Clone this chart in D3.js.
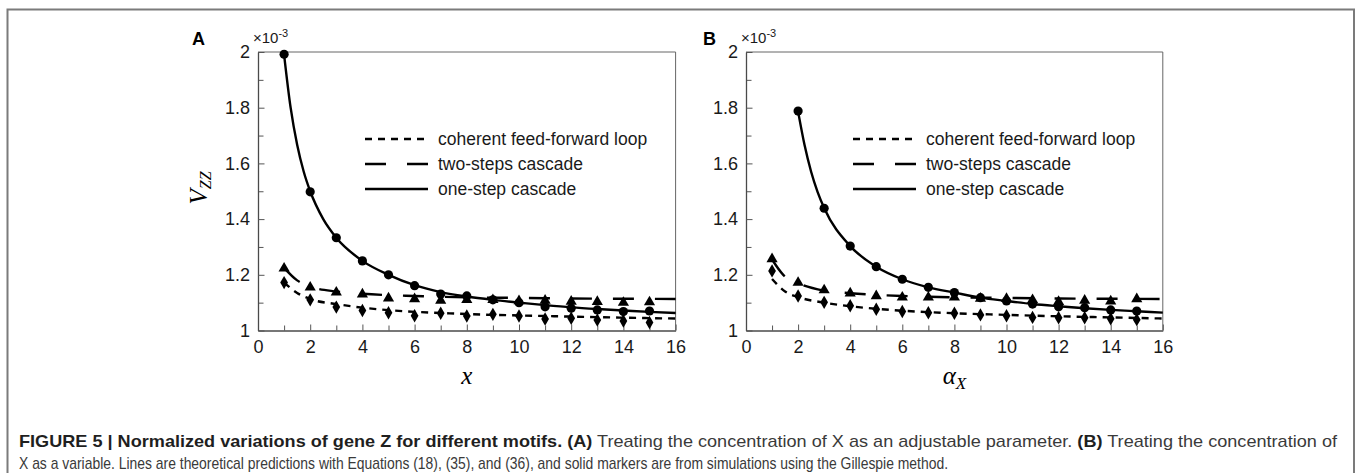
<!DOCTYPE html>
<html>
<head>
<meta charset="utf-8">
<script src="https://cdn.jsdelivr.net/npm/d3@7"></script>
<style>
  body { margin: 0; background: #fff; }
  svg { display: block; }
</style>
</head>
<body>
<svg width="1357" height="473"></svg>
<script>
// ---- data (values in units of 1e-3) ----
const panelLetters = ["A", "B"];
const xAxisTitles = ["x", "α"];
const xTickValues = [0, 2, 4, 6, 8, 10, 12, 14, 16];
const xTickLabels = ["0", "2", "4", "6", "8", "10", "12", "14", "16"];
const xMinorTicks = [1, 3, 5, 7, 9, 11, 13, 15];
const yTickValues = [1, 1.2, 1.4, 1.6, 1.8, 2];
const yTickLabels = ["1", "1.2", "1.4", "1.6", "1.8", "2"];
const yMinorTicks = [1.1, 1.3, 1.5, 1.7, 1.9];
const legendLabels = ["coherent feed-forward loop", "two-steps cascade", "one-step cascade"];

// panel A: theory lines
const aFflLineX = [1, 1.5, 2, 3, 4, 5, 6, 7, 8, 10, 12, 14, 16];
const aFflLineY = [1.172, 1.135, 1.113, 1.095, 1.082, 1.073, 1.067, 1.063, 1.059, 1.054, 1.05, 1.046, 1.043];
const aTwoLineX = [1, 1.5, 2, 3, 4, 5, 6, 7, 8, 10, 12, 14, 16];
const aTwoLineY = [1.225, 1.18, 1.158, 1.14, 1.132, 1.127, 1.124, 1.121, 1.119, 1.117, 1.115, 1.114, 1.113];
const aOneLineX = [1, 1.25, 1.5, 1.75, 2, 2.5, 3, 4, 5, 6, 7, 8, 9, 10, 11, 12, 13, 14, 15, 16];
const aOneLineY = [1.99, 1.8, 1.667, 1.571, 1.5, 1.4, 1.333, 1.25, 1.2, 1.163, 1.138, 1.122, 1.11, 1.1, 1.091, 1.083, 1.077, 1.072, 1.067, 1.063];
// panel A: simulation markers
const aMarkerX = [1, 2, 3, 4, 5, 6, 7, 8, 9, 10, 11, 12, 13, 14, 15];
const aFflMarkers = [1.172, 1.11, 1.084, 1.072, 1.064, 1.053, 1.062, 1.052, 1.058, 1.052, 1.041, 1.044, 1.038, 1.034, 1.029];
const aTwoMarkers = [1.223, 1.155, 1.137, 1.13, 1.116, 1.113, 1.108, 1.11, 1.11, 1.106, 1.108, 1.104, 1.103, 1.1, 1.102];
const aOneMarkers = [1.992, 1.498, 1.333, 1.25, 1.2, 1.161, 1.131, 1.124, 1.11, 1.1, 1.085, 1.08, 1.074, 1.068, 1.07];

// panel B: theory lines
const bFflLineX = [1, 1.5, 2, 3, 4, 5, 6, 7, 8, 10, 12, 14, 16];
const bFflLineY = [1.185, 1.14, 1.12, 1.1, 1.087, 1.078, 1.071, 1.066, 1.062, 1.056, 1.051, 1.047, 1.043];
const bTwoLineX = [1, 1.43, 2, 3, 4, 5, 6, 7, 8, 10, 12, 14, 16];
const bTwoLineY = [1.255, 1.2, 1.17, 1.143, 1.134, 1.128, 1.124, 1.121, 1.119, 1.117, 1.115, 1.114, 1.113];
const bOneLineX = [2, 2.25, 2.5, 2.75, 3, 4, 5, 6, 7, 8, 9, 10, 11, 12, 13, 14, 15, 16];
const bOneLineY = [1.786, 1.665, 1.57, 1.497, 1.44, 1.303, 1.229, 1.184, 1.155, 1.136, 1.118, 1.106, 1.095, 1.087, 1.08, 1.074, 1.069, 1.064];
// panel B: simulation markers
const bMarkerX = [1, 2, 3, 4, 5, 6, 7, 8, 9, 10, 11, 12, 13, 14, 15];
const bOneMarkerX = [2, 3, 4, 5, 6, 7, 8, 9, 10, 11, 12, 13, 14, 15];
const bFflMarkers = [1.214, 1.124, 1.101, 1.089, 1.076, 1.068, 1.064, 1.062, 1.056, 1.053, 1.047, 1.046, 1.046, 1.042, 1.039];
const bTwoMarkers = [1.257, 1.172, 1.145, 1.134, 1.124, 1.119, 1.119, 1.119, 1.115, 1.114, 1.11, 1.103, 1.108, 1.105, 1.113];
const bOneMarkers = [1.788, 1.439, 1.303, 1.229, 1.184, 1.155, 1.136, 1.118, 1.106, 1.095, 1.085, 1.082, 1.074, 1.07];

const captionBold1 = "FIGURE 5 | Normalized variations of gene Z for different motifs. (A)";
const captionText1 = " Treating the concentration of X as an adjustable parameter. ";
const captionBold2 = "(B)";
const captionText2 = " Treating the concentration of";
const captionLine2 = "X as a variable. Lines are theoretical predictions with Equations (18), (35), and (36), and solid markers are from simulations using the Gillespie method.";

const zip = (xs, ys) => xs.map((x, i) => ({ x: x, y: ys[i] }));

const panels = [
  { left: 258, right: 675.6,
    ffl: zip(aFflLineX, aFflLineY), two: zip(aTwoLineX, aTwoLineY), one: zip(aOneLineX, aOneLineY),
    fflM: zip(aMarkerX, aFflMarkers), twoM: zip(aMarkerX, aTwoMarkers), oneM: zip(aMarkerX, aOneMarkers),
    legendX: 365 },
  { left: 746, right: 1162.8,
    ffl: zip(bFflLineX, bFflLineY), two: zip(bTwoLineX, bTwoLineY), one: zip(bOneLineX, bOneLineY),
    fflM: zip(bMarkerX, bFflMarkers), twoM: zip(bMarkerX, bTwoMarkers), oneM: zip(bOneMarkerX, bOneMarkers),
    legendX: 853 }
];
const plotTop = 52, plotBottom = 330.5;
const sans = "'Liberation Sans', Arial, Helvetica, sans-serif";
const serif = "'Liberation Serif', 'Times New Roman', serif";
const dotted = "7,6", dashed = "21,21";

let svg = d3.select("svg");

// outer figure frame
svg.append("rect")
   .attr("x", 7.5).attr("y", 9.5)
   .attr("width", 1346.5).attr("height", 500)
   .attr("fill", "none")
   .attr("stroke", "#7b7b7b")
   .attr("stroke-width", 2);

panels.forEach((p, pi) => {
  let x = d3.scaleLinear().domain([0, 16]).range([p.left, p.right]);
  let y = d3.scaleLinear().domain([1, 2]).range([plotBottom, plotTop]);
  let g = svg.append("g");

  // top + right border
  g.append("path")
   .attr("d", `M${p.left},${plotTop}H${p.right}V${plotBottom}`)
   .attr("fill", "none").attr("stroke", "#666").attr("stroke-width", 1);

  // minor ticks
  g.append("g").attr("transform", `translate(0,${plotBottom})`)
   .call(d3.axisBottom(x).tickValues(xMinorTicks).tickSize(-5).tickSizeOuter(0).tickFormat(""))
   .call(s => s.select(".domain").remove())
   .selectAll("line").attr("stroke", "#555");
  g.append("g").attr("transform", `translate(${p.left},0)`)
   .call(d3.axisLeft(y).tickValues(yMinorTicks).tickSize(-5.5).tickSizeOuter(0).tickFormat(""))
   .call(s => s.select(".domain").remove())
   .selectAll("line").attr("stroke", "#555");

  // major axes
  let xAxis = g.append("g").attr("transform", `translate(0,${plotBottom})`)
   .call(d3.axisBottom(x).tickValues(xTickValues).tickSize(-6).tickSizeOuter(0).tickPadding(10)
     .tickFormat((d, i) => xTickLabels[i]));
  let yAxis = g.append("g").attr("transform", `translate(${p.left},0)`)
   .call(d3.axisLeft(y).tickValues(yTickValues).tickSize(-6.5).tickSizeOuter(0).tickPadding(8)
     .tickFormat((d, i) => yTickLabels[i]));
  [xAxis, yAxis].forEach(a => {
    a.select(".domain").attr("stroke", "#4a4a4a").attr("stroke-width", 1.3);
    a.selectAll(".tick line").attr("stroke", "#555");
    a.selectAll("text").attr("fill", "#1a1a1a").style("font-family", sans).style("font-size", "18px");
  });

  // theory lines
  let line = d3.line().x(d => x(d.x)).y(d => y(d.y)).curve(d3.curveMonotoneX);
  [[p.ffl, dotted], [p.two, dashed], [p.one, null]].forEach(([data, dash]) => {
    g.append("path")
     .datum(data)
     .attr("d", line)
     .attr("fill", "none")
     .attr("stroke", "#000")
     .attr("stroke-width", 2.4)
     .attr("stroke-dasharray", dash);
  });

  // simulation markers
  g.selectAll(".dia").data(p.fflM).enter().append("path")
   .attr("transform", d => `translate(${x(d.x)},${y(d.y)})`)
   .attr("d", d3.symbol(d3.symbolDiamond, 52));
  g.selectAll(".tri").data(p.twoM).enter().append("path")
   .attr("transform", d => `translate(${x(d.x)},${y(d.y)})`)
   .attr("d", d3.symbol(d3.symbolTriangle, 54));
  g.selectAll(".cir").data(p.oneM).enter().append("circle")
   .attr("cx", d => x(d.x)).attr("cy", d => y(d.y)).attr("r", 4.6);

  // legend
  let legendY = [139, 164, 189];
  let dashes = [dotted, dashed, null];
  legendLabels.forEach((lab, i) => {
    g.append("line")
     .attr("x1", p.legendX).attr("x2", p.legendX + 63)
     .attr("y1", legendY[i]).attr("y2", legendY[i])
     .attr("stroke", "#000").attr("stroke-width", 2.4)
     .attr("stroke-dasharray", dashes[i]);
    g.append("text")
     .attr("x", p.legendX + 73).attr("y", legendY[i])
     .attr("dy", "0.35em")
     .style("font-family", sans).style("font-size", "17.5px")
     .attr("fill", "#1a1a1a")
     .text(lab);
  });

  // panel letter and multiplier
  g.append("text")
   .attr("x", p.left - (pi === 0 ? 66 : 43)).attr("y", 45)
   .style("font-family", sans).style("font-size", "18px").style("font-weight", "bold")
   .text(panelLetters[pi]);
  let mult = g.append("text")
   .attr("x", p.left - 5).attr("y", 43)
   .style("font-family", sans).style("font-size", "15px")
   .attr("fill", "#1a1a1a");
  mult.append("tspan").text("×10");
  mult.append("tspan").attr("dy", -6).style("font-size", "11px").text("-3");

  // x axis title
  let xt = g.append("text")
   .attr("x", x(8)).attr("y", 384)
   .attr("text-anchor", "middle")
   .style("font-family", serif).style("font-size", "25px").style("font-style", "italic")
   .text(xAxisTitles[pi]);
  if (pi === 1) {
    xt.append("tspan").attr("dy", 5).style("font-size", "17px").text("X");
  }
});

// y axis title of panel A
let yt = svg.append("text")
   .attr("transform", "translate(207,188) rotate(-90)")
   .attr("text-anchor", "middle")
   .style("font-family", serif).style("font-size", "25px").style("font-style", "italic");
yt.append("tspan").text("V");
yt.append("tspan").attr("dy", 4).style("font-size", "16px").text("ZZ");

// caption
const capFont = "'Liberation Sans', Arial, sans-serif";
let cap1 = svg.append("text")
   .attr("x", 19).attr("y", 447)
   .attr("textLength", 1318).attr("lengthAdjust", "spacingAndGlyphs")
   .style("font-family", capFont)
   .style("font-size", "17px")
   .attr("fill", "#3a3a3a");
cap1.append("tspan").style("font-weight", "bold").attr("fill", "#1f1f1f").text(captionBold1);
cap1.append("tspan").text(captionText1);
cap1.append("tspan").style("font-weight", "bold").attr("fill", "#1f1f1f").text(captionBold2);
cap1.append("tspan").text(captionText2);

svg.append("text")
   .attr("x", 19).attr("y", 469)
   .attr("textLength", 929).attr("lengthAdjust", "spacingAndGlyphs")
   .style("font-family", capFont)
   .style("font-size", "17px")
   .attr("fill", "#3a3a3a")
   .text(captionLine2);
</script>
</body>
</html>
